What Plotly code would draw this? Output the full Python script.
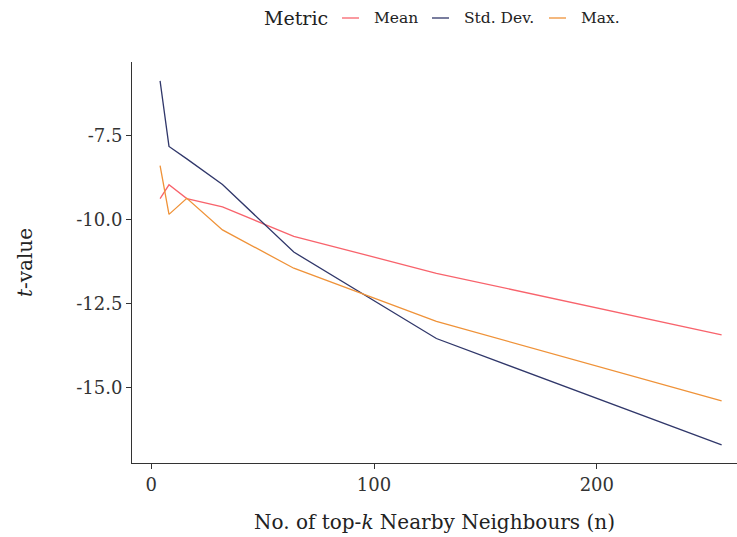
import plotly.graph_objects as go

neighbours = [4, 8, 16, 32, 64, 128, 256]
mean_t = [-9.38, -8.97, -9.38, -9.63, -10.50, -11.60, -13.43]
std_t = [-5.88, -7.83, -8.20, -8.96, -10.97, -13.54, -16.70]
max_t = [-8.40, -9.85, -9.37, -10.31, -11.45, -13.03, -15.39]

series_names = ["Mean", "Std. Dev.", "Max."]
series_colors = ["#F8636C", "#30376A", "#EF9238"]
series_values = [mean_t, std_t, max_t]

FONT = "DejaVu Serif"
TXT = "#222222"

# figure geometry (body margin removed via post_script)
W, H = 737, 537
ML, MR, MT, MB = 132, 0, 62, 74
PW, PH = W - ML - MR, H - MT - MB


def px_x(xp):
    return (xp - ML) / PW


def px_y(yp):
    return (H - MB - yp) / PH


fig = go.Figure()
for name, vals, col in zip(series_names, series_values, series_colors):
    fig.add_trace(go.Scatter(x=neighbours, y=vals, mode="lines", name=name,
                             line=dict(color=col, width=1.3), showlegend=False))

# manual legend (ggplot-style: short keys)
ly = px_y(18)
annotations = [dict(text="Metric", x=px_x(262), y=ly, xref="paper", yref="paper",
                    xanchor="left", yanchor="middle", showarrow=False,
                    font=dict(size=19, color=TXT, family=FONT))]
shapes = []
key_starts = [342, 432, 549]
label_starts = [372, 462, 579]
for name, col, ks, ls in zip(series_names, series_colors, key_starts, label_starts):
    shapes.append(dict(type="line", xref="paper", yref="paper",
                       x0=px_x(ks), x1=px_x(ks + 17), y0=ly, y1=ly,
                       line=dict(color=col, width=1.3)))
    annotations.append(dict(text=name, x=px_x(ls), y=ly, xref="paper", yref="paper",
                            xanchor="left", yanchor="middle", showarrow=False,
                            font=dict(size=15.5, color=TXT, family=FONT)))

fig.update_layout(
    width=W, height=H,
    margin=dict(l=ML, r=MR, t=MT, b=MB, autoexpand=False),
    paper_bgcolor="white", plot_bgcolor="white",
    font=dict(family=FONT, size=15, color=TXT),
    annotations=annotations, shapes=shapes,
    showlegend=False,
)
fig.update_xaxes(range=[-8.6, 262.9], tickvals=[0, 100, 200], ticktext=["0", "100", "200"],
                 showgrid=False, zeroline=False, showline=True, linecolor="#333", linewidth=1,
                 ticks="outside", ticklen=5, tickcolor="#333",
                 tickfont=dict(size=18, color="#333"),
                 title=dict(text="No. of top-<i>k</i> Nearby Neighbours (n)",
                            font=dict(size=20, color=TXT), standoff=21))
fig.update_yaxes(range=[-17.24, -5.32], tickvals=[-7.5, -10.0, -12.5, -15.0],
                 ticktext=["-7.5", "-10.0", "-12.5", "-15.0"],
                 showgrid=False, zeroline=False, showline=True, linecolor="#333", linewidth=1,
                 ticks="outside", ticklen=5, tickcolor="#333",
                 tickfont=dict(size=18, color="#333"),
                 title=dict(text="<i>t</i>-value", font=dict(size=20, color=TXT), standoff=38))

fig.write_html("out.html", config={"displayModeBar": False},
               post_script="document.body.style.margin='0';document.body.style.overflow='hidden';")
